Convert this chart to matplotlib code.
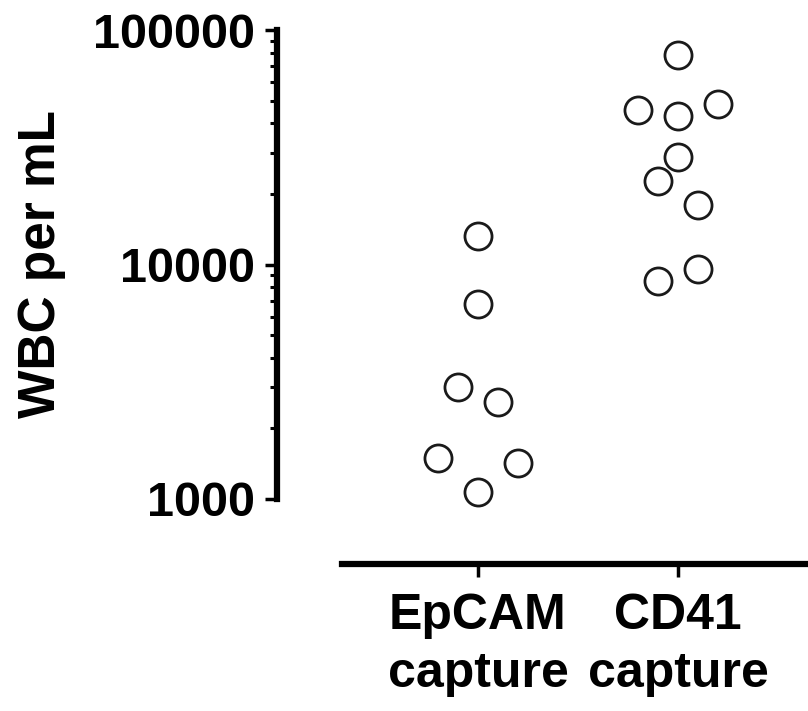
import matplotlib.pyplot as plt
from matplotlib.ticker import LogLocator, FixedLocator, FixedFormatter, NullFormatter

# categories and values
groups = ['EpCAM\ncapture', 'CD41\ncapture']
epcam_wbc = [13200, 6800, 3000, 2600, 1500, 1420, 1070]
epcam_jitter = [0.0, 0.0, -0.1, 0.1, -0.2, 0.2, 0.0]
cd41_wbc = [78000, 45500, 43000, 48500, 28700, 22600, 17900, 9600, 8500]
cd41_jitter = [0.0, -0.2, 0.0, 0.2, 0.0, -0.1, 0.1, 0.1, -0.1]
yticks = [1000, 10000, 100000]

plt.rcParams['font.family'] = ['Liberation Sans', 'DejaVu Sans']
plt.rcParams['font.weight'] = 'bold'

W, H = 808, 711
fig = plt.figure(figsize=(W / 100, H / 100), dpi=100)
left, right, top, bottom = 277, 808, 30, 499
ax = fig.add_axes([left / W, 1 - bottom / H, (right - left) / W, (bottom - top) / H])

mk = dict(linestyle='none', marker='o', markersize=19.5, markerfacecolor='white',
          markeredgecolor='#1a1a1a', markeredgewidth=2.0, clip_on=False)
ax.plot([0 + j for j in epcam_jitter], epcam_wbc, **mk)
ax.plot([1 + j for j in cd41_jitter], cd41_wbc, **mk)

ax.set_yscale('log')
ax.set_ylim(1000, 100000)
ax.set_xlim(-1.005, 1.65)

ax.yaxis.set_major_locator(FixedLocator(yticks))
ax.yaxis.set_major_formatter(FixedFormatter([str(v) for v in yticks]))
ax.yaxis.set_minor_locator(LogLocator(base=10, subs=range(2, 10)))
ax.yaxis.set_minor_formatter(NullFormatter())

for s in ['top', 'right']:
    ax.spines[s].set_visible(False)
ax.spines['left'].set_linewidth(4.5)
ax.spines['bottom'].set_linewidth(4.5)
ax.spines['bottom'].set_position(('outward', 47))
ax.spines['bottom'].set_bounds(-0.68, 1.65)

ax.tick_params(axis='y', which='major', length=9, width=2.5, labelsize=35, pad=7)
ax.tick_params(axis='y', which='minor', length=5, width=2.2)
ax.tick_params(axis='x', which='major', length=9, width=2.5, pad=12, labelsize=36)
ax.tick_params(axis='x', which='minor', length=0)

ax.set_xticks([0, 1])
ax.set_xticklabels(groups, fontsize=36, fontweight='bold', linespacing=1.33)

ax.set_ylabel('WBC per mL', fontsize=37, fontweight='bold', labelpad=19)

fig.savefig('out.png', dpi=100)
